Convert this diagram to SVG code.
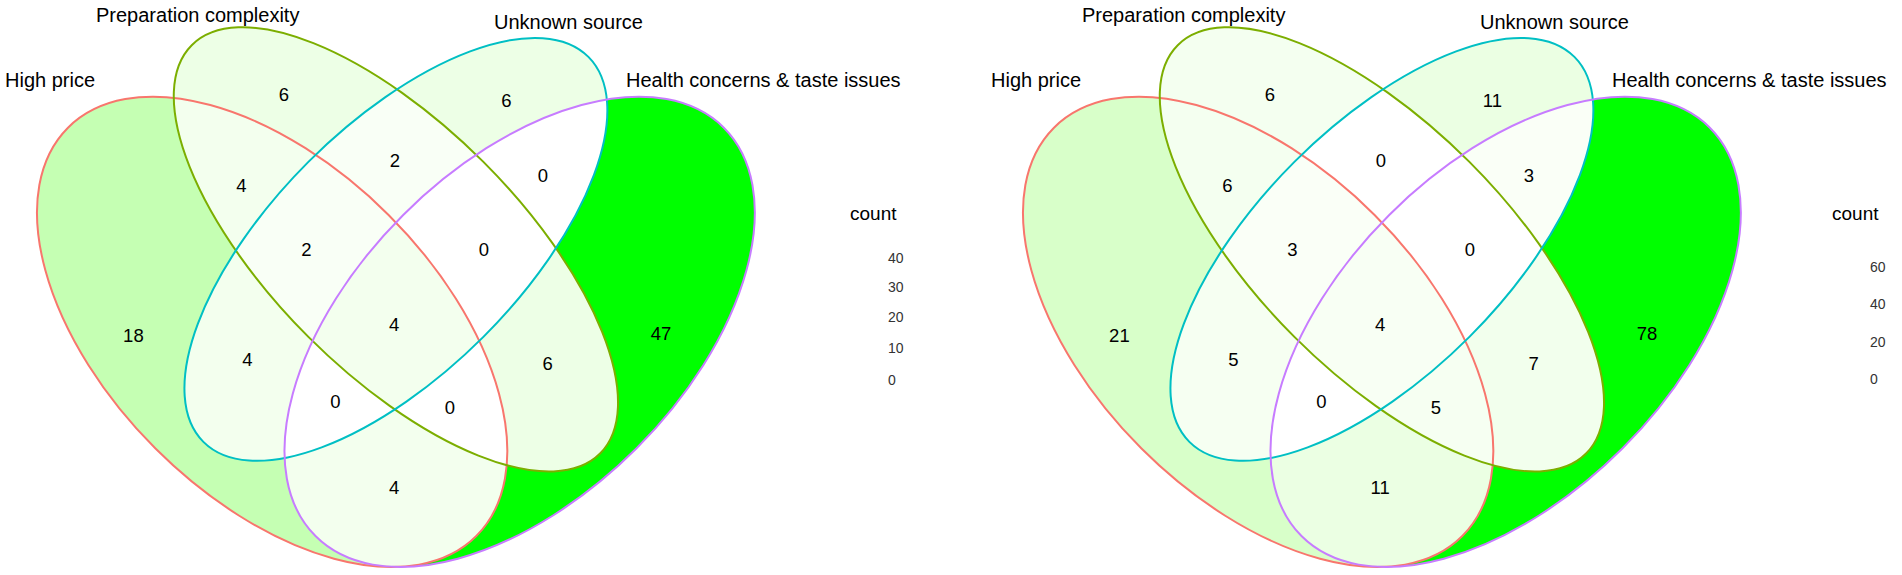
<svg xmlns="http://www.w3.org/2000/svg" xmlns:xlink="http://www.w3.org/1999/xlink" width="1902" height="575" viewBox="0 0 1902 575">
<style>
.num{font-family:"Liberation Sans",Arial,sans-serif;font-size:18.5px;text-anchor:middle;fill:#000}
.set{font-family:"Liberation Sans",Arial,sans-serif;font-size:20px;fill:#000}
.cnt{font-family:"Liberation Sans",Arial,sans-serif;font-size:19px;fill:#000}
.tick{font-family:"Liberation Sans",Arial,sans-serif;font-size:14px;fill:#333}
.edge{fill:none;stroke-width:2}
</style>
<defs>
<ellipse id="eA" cx="272.15" cy="331.85" rx="288.75" ry="165" transform="rotate(45 272.15 331.85)"/>
<ellipse id="eB" cx="395.9" cy="249.35" rx="288.75" ry="123.75" transform="rotate(45 395.9 249.35)"/>
<ellipse id="eC" cx="395.9" cy="249.35" rx="272.25" ry="123.75" transform="rotate(-45 395.9 249.35)"/>
<ellipse id="eD" cx="519.65" cy="331.85" rx="288.75" ry="165" transform="rotate(-45 519.65 331.85)"/>
<clipPath id="cA"><use href="#eA"/></clipPath>
<clipPath id="cB"><use href="#eB"/></clipPath>
<clipPath id="cC"><use href="#eC"/></clipPath>
<clipPath id="cD"><use href="#eD"/></clipPath>
<mask id="nA" maskUnits="userSpaceOnUse" x="-60" y="-60" width="1000" height="700"><rect x="-60" y="-60" width="1000" height="700" fill="#fff"/><use href="#eA" fill="#000"/></mask>
<mask id="nB" maskUnits="userSpaceOnUse" x="-60" y="-60" width="1000" height="700"><rect x="-60" y="-60" width="1000" height="700" fill="#fff"/><use href="#eB" fill="#000"/></mask>
<mask id="nC" maskUnits="userSpaceOnUse" x="-60" y="-60" width="1000" height="700"><rect x="-60" y="-60" width="1000" height="700" fill="#fff"/><use href="#eC" fill="#000"/></mask>
<mask id="nD" maskUnits="userSpaceOnUse" x="-60" y="-60" width="1000" height="700"><rect x="-60" y="-60" width="1000" height="700" fill="#fff"/><use href="#eD" fill="#000"/></mask>
</defs>
<rect width="1902" height="575" fill="#fff"/>

<g id="venn-left">
<g id="fills-left">
<g mask="url(#nB)"><g mask="url(#nC)"><g mask="url(#nD)"><use href="#eA" fill="#C5FFB3"/></g></g></g>
<g mask="url(#nA)"><g mask="url(#nC)"><g mask="url(#nD)"><use href="#eB" fill="#EDFFE6"/></g></g></g>
<g mask="url(#nA)"><g mask="url(#nB)"><g mask="url(#nD)"><use href="#eC" fill="#EDFFE6"/></g></g></g>
<g mask="url(#nA)"><g mask="url(#nB)"><g mask="url(#nC)"><use href="#eD" fill="#00FF00"/></g></g></g>
<g clip-path="url(#cB)"><g mask="url(#nC)"><g mask="url(#nD)"><use href="#eA" fill="#F3FFEE"/></g></g></g>
<g clip-path="url(#cC)"><g mask="url(#nB)"><g mask="url(#nD)"><use href="#eA" fill="#F3FFEE"/></g></g></g>
<g clip-path="url(#cD)"><g mask="url(#nB)"><g mask="url(#nC)"><use href="#eA" fill="#F3FFEE"/></g></g></g>
<g clip-path="url(#cC)"><g mask="url(#nA)"><g mask="url(#nD)"><use href="#eB" fill="#F9FFF6"/></g></g></g>
<g clip-path="url(#cD)"><g mask="url(#nA)"><g mask="url(#nC)"><use href="#eB" fill="#EDFFE6"/></g></g></g>
<g clip-path="url(#cB)"><g clip-path="url(#cC)"><g mask="url(#nD)"><use href="#eA" fill="#F9FFF6"/></g></g></g>
<g clip-path="url(#cB)"><g clip-path="url(#cC)"><g clip-path="url(#cD)"><use href="#eA" fill="#F3FFEE"/></g></g></g>
</g>
<g id="sets-left">
<use id="setA-left" href="#eA" class="edge" stroke="#F8766D"/>
<use id="setB-left" href="#eB" class="edge" stroke="#7CAE00"/>
<use id="setC-left" href="#eC" class="edge" stroke="#00BFC4"/>
<use id="setD-left" href="#eD" class="edge" stroke="#C77CFF"/>
</g>
<g id="counts-left">
<text class="num" x="133.4" y="342">18</text>
<text class="num" x="283.8" y="101.2">6</text>
<text class="num" x="506.4" y="107.4">6</text>
<text class="num" x="661.1" y="340.3">47</text>
<text class="num" x="241.4" y="191.8">4</text>
<text class="num" x="394.8" y="166.8">2</text>
<text class="num" x="542.8" y="181.9">0</text>
<text class="num" x="306.3" y="256">2</text>
<text class="num" x="484" y="256">0</text>
<text class="num" x="394.2" y="331.1">4</text>
<text class="num" x="247.5" y="366">4</text>
<text class="num" x="547.7" y="370.4">6</text>
<text class="num" x="335.4" y="408.1">0</text>
<text class="num" x="450" y="414.4">0</text>
<text class="num" x="394.2" y="494.3">4</text>
</g>
<g id="labels-left">
<text class="set" x="5" y="87">High price</text>
<text class="set" x="96" y="22">Preparation complexity</text>
<text class="set" x="494" y="29">Unknown source</text>
<text class="set" x="626" y="87">Health concerns &amp; taste issues</text>
</g>
<g id="legend-left">
<text class="cnt" x="850" y="220">count</text>
<text class="tick" x="888" y="263">40</text>
<text class="tick" x="888" y="292">30</text>
<text class="tick" x="888" y="322">20</text>
<text class="tick" x="888" y="353">10</text>
<text class="tick" x="888" y="385">0</text>
</g>
</g>

<g id="venn-right" transform="translate(986,0)">
<g id="fills-right">
<g mask="url(#nB)"><g mask="url(#nC)"><g mask="url(#nD)"><use href="#eA" fill="#D8FFC9"/></g></g></g>
<g mask="url(#nA)"><g mask="url(#nC)"><g mask="url(#nD)"><use href="#eB" fill="#F4FFF0"/></g></g></g>
<g mask="url(#nA)"><g mask="url(#nB)"><g mask="url(#nD)"><use href="#eC" fill="#EBFFE3"/></g></g></g>
<g mask="url(#nA)"><g mask="url(#nB)"><g mask="url(#nC)"><use href="#eD" fill="#00FF00"/></g></g></g>
<g clip-path="url(#cB)"><g mask="url(#nC)"><g mask="url(#nD)"><use href="#eA" fill="#F4FFF0"/></g></g></g>
<g clip-path="url(#cC)"><g mask="url(#nB)"><g mask="url(#nD)"><use href="#eA" fill="#F6FFF2"/></g></g></g>
<g clip-path="url(#cD)"><g mask="url(#nB)"><g mask="url(#nC)"><use href="#eA" fill="#EBFFE3"/></g></g></g>
<g clip-path="url(#cD)"><g mask="url(#nA)"><g mask="url(#nB)"><use href="#eC" fill="#FAFFF7"/></g></g></g>
<g clip-path="url(#cD)"><g mask="url(#nA)"><g mask="url(#nC)"><use href="#eB" fill="#F2FFED"/></g></g></g>
<g clip-path="url(#cB)"><g clip-path="url(#cC)"><g mask="url(#nD)"><use href="#eA" fill="#FAFFF7"/></g></g></g>
<g clip-path="url(#cB)"><g clip-path="url(#cD)"><g mask="url(#nC)"><use href="#eA" fill="#F6FFF2"/></g></g></g>
<g clip-path="url(#cB)"><g clip-path="url(#cC)"><g clip-path="url(#cD)"><use href="#eA" fill="#F8FFF4"/></g></g></g>
</g>
<g id="sets-right">
<use id="setA-right" href="#eA" class="edge" stroke="#F8766D"/>
<use id="setB-right" href="#eB" class="edge" stroke="#7CAE00"/>
<use id="setC-right" href="#eC" class="edge" stroke="#00BFC4"/>
<use id="setD-right" href="#eD" class="edge" stroke="#C77CFF"/>
</g>
<g id="counts-right">
<text class="num" x="133.4" y="342">21</text>
<text class="num" x="283.8" y="101.2">6</text>
<text class="num" x="506.4" y="107.4">11</text>
<text class="num" x="661.1" y="340.3">78</text>
<text class="num" x="241.4" y="191.8">6</text>
<text class="num" x="394.8" y="166.8">0</text>
<text class="num" x="542.8" y="181.9">3</text>
<text class="num" x="306.3" y="256">3</text>
<text class="num" x="484" y="256">0</text>
<text class="num" x="394.2" y="331.1">4</text>
<text class="num" x="247.5" y="366">5</text>
<text class="num" x="547.7" y="370.4">7</text>
<text class="num" x="335.4" y="408.1">0</text>
<text class="num" x="450" y="414.4">5</text>
<text class="num" x="394.2" y="494.3">11</text>
</g>
<g id="labels-right">
<text class="set" x="5" y="87">High price</text>
<text class="set" x="96" y="22">Preparation complexity</text>
<text class="set" x="494" y="29">Unknown source</text>
<text class="set" x="626" y="87">Health concerns &amp; taste issues</text>
</g>
<g id="legend-right">
<text class="cnt" x="846" y="220">count</text>
<text class="tick" x="884" y="272">60</text>
<text class="tick" x="884" y="309">40</text>
<text class="tick" x="884" y="347">20</text>
<text class="tick" x="884" y="384">0</text>
</g>
</g>
</svg>
